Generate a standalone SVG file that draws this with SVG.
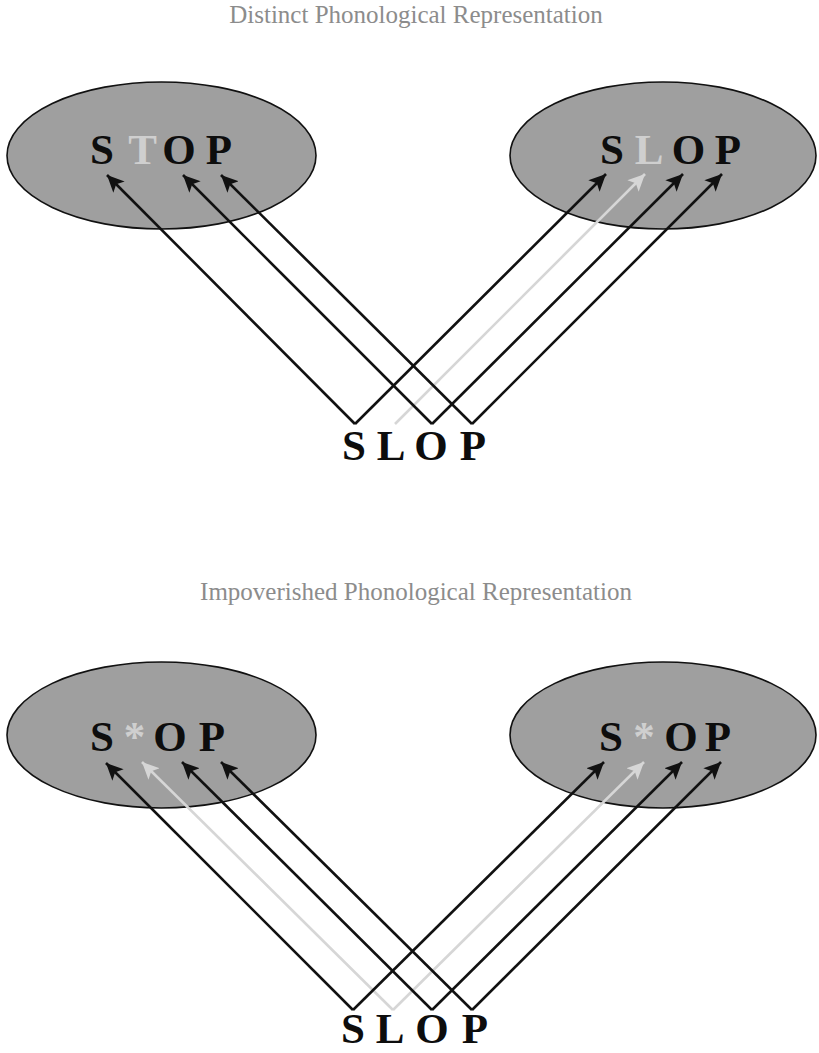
<svg xmlns="http://www.w3.org/2000/svg" width="819" height="1053" viewBox="0 0 819 1053">
<style>
.title{font-family:"Liberation Serif","Times New Roman",serif;font-size:25px;fill:#8c8c8c;text-anchor:middle}
.big{font-family:"Liberation Serif","Times New Roman",serif;font-weight:bold;font-size:43px;fill:#0d0d0d;text-anchor:middle}
.pale{fill:#cfcfcf}
.oval{fill:#9f9f9f;stroke:#111;stroke-width:1.6}
.k{stroke:#111;stroke-width:2.6;fill:none;marker-end:url(#ak)}
.g{stroke:#d6d6d6;stroke-width:2.6;fill:none;marker-end:url(#ag)}
</style>
<defs>
<marker id="ak" markerUnits="userSpaceOnUse" markerWidth="18" markerHeight="16" refX="17" refY="8" orient="auto"><path d="M0,0 L17,8 L0,16 L4,8 Z" fill="#111"/></marker>
<marker id="ag" markerUnits="userSpaceOnUse" markerWidth="18" markerHeight="16" refX="17" refY="8" orient="auto"><path d="M0,0 L17,8 L0,16 L4,8 Z" fill="#d6d6d6"/></marker>
</defs>
<rect width="819" height="1053" fill="#fff"/>

<text id="title1" class="title" x="416" y="23">Distinct Phonological Representation</text>
<text id="title2" class="title" x="416" y="600">Impoverished Phonological Representation</text>

<g id="top-left-STOP">
<ellipse class="oval" cx="161.5" cy="155.5" rx="154.5" ry="73.5"/>
<text class="big" x="102" y="164">S</text>
<text class="big pale" x="142.5" y="164">T</text>
<text class="big" x="179" y="164">O</text>
<text class="big" x="219" y="164">P</text>
</g>
<g id="top-right-SLOP">
<ellipse class="oval" cx="663" cy="155.5" rx="153" ry="73.5"/>
<text class="big" x="612" y="164">S</text>
<text class="big pale" x="649" y="164">L</text>
<text class="big" x="688.5" y="164">O</text>
<text class="big" x="728" y="164">P</text>
</g>
<g id="top-source-SLOP">
<text class="big" x="354" y="460">S</text>
<text class="big" x="391" y="460">L</text>
<text class="big" x="431" y="460">O</text>
<text class="big" x="473" y="460">P</text>
</g>

<g id="bottom-left-SxOP">
<ellipse class="oval" cx="161.5" cy="735" rx="154.5" ry="73"/>
<text class="big" x="102" y="751">S</text>
<text class="big pale" x="134.5" y="751">*</text>
<text class="big" x="170" y="751">O</text>
<text class="big" x="212" y="751">P</text>
</g>
<g id="bottom-right-SxOP">
<ellipse class="oval" cx="663" cy="735" rx="153" ry="73"/>
<text class="big" x="611" y="751">S</text>
<text class="big pale" x="644" y="751">*</text>
<text class="big" x="681" y="751">O</text>
<text class="big" x="718" y="751">P</text>
</g>
<g id="bottom-source-SLOP">
<text class="big" x="353" y="1043">S</text>
<text class="big" x="390" y="1043">L</text>
<text class="big" x="432" y="1043">O</text>
<text class="big" x="475" y="1043">P</text>
</g>

<g id="connectors">
<path class="g" d="M395,424 L645,174"/>
<path class="k" d="M355,424 L107,175"/>
<path class="k" d="M355,424 L606,174"/>
<path class="k" d="M432,424 L183,175"/>
<path class="k" d="M432,424 L683,174"/>
<path class="k" d="M472,424 L221,175"/>
<path class="k" d="M472,424 L722,174"/>

<path class="g" d="M393,1010 L142,762"/>
<path class="g" d="M393,1010 L644,762"/>
<path class="k" d="M353,1010 L106,763"/>
<path class="k" d="M353,1010 L604,762"/>
<path class="k" d="M432,1010 L182,762"/>
<path class="k" d="M432,1010 L682,762"/>
<path class="k" d="M472,1010 L221,762"/>
<path class="k" d="M472,1010 L721,762"/>
</g>
</svg>
